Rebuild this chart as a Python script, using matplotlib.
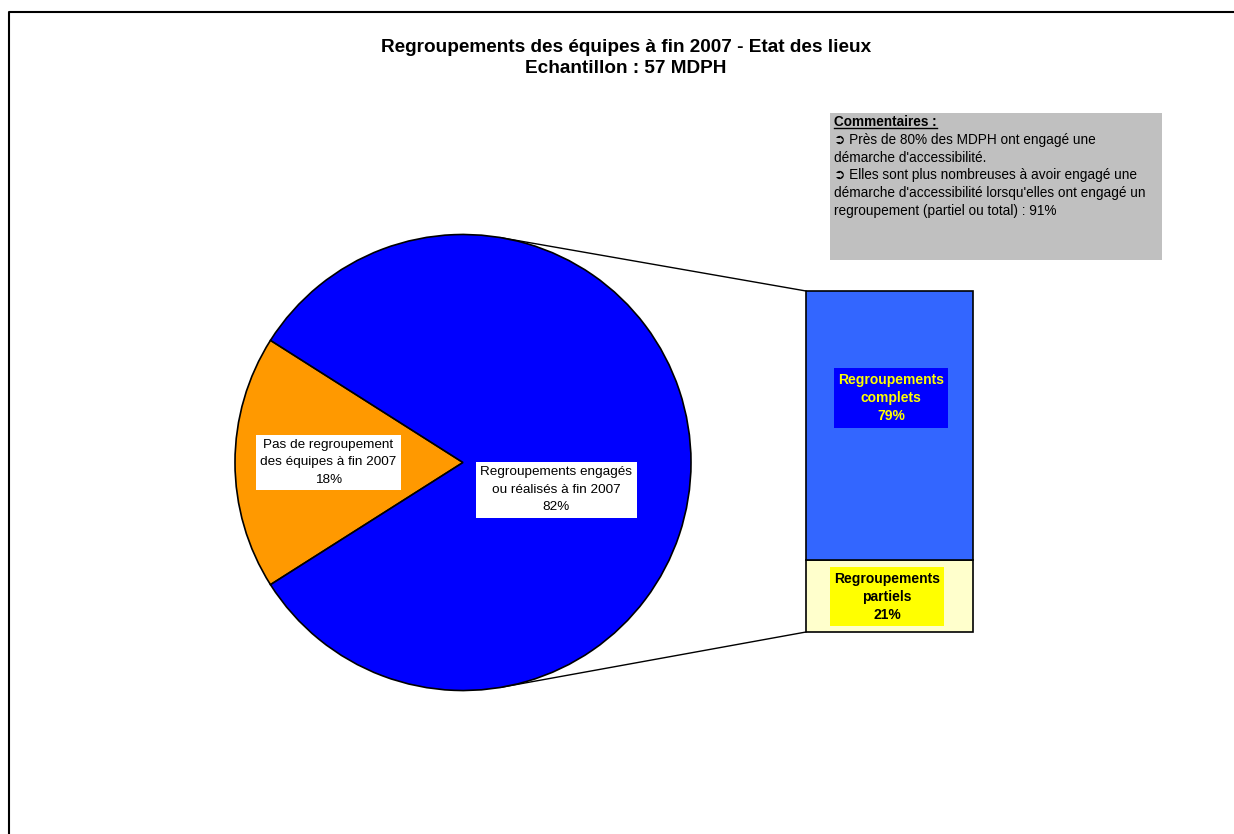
import matplotlib
matplotlib.use('Agg')
import matplotlib.pyplot as plt
import numpy as np

plt.rcParams['font.family'] = ['Liberation Sans', 'DejaVu Sans']

# data
pie_labels = ['Pas de regroupement\ndes équipes à fin 2007', 'Regroupements engagés\nou réalisés à fin 2007']
pie_values = [18, 82]
pie_colors = ['#FF9900', '#0000FF']
bar_labels = ['Regroupements\npartiels', 'Regroupements\ncomplets']
bar_values = [21, 79]
bar_colors = ['#FFFFCC', '#3366FF']

title = 'Regroupements des équipes à fin 2007 - Etat des lieux\nEchantillon : 57 MDPH'
comment_head = 'Commentaires :'
comment_body = ("\u27b2 Près de 80% des MDPH ont engagé une\n"
                "démarche d'accessibilité.\n"
                "\u27b2 Elles sont plus nombreuses à avoir engagé une\n"
                "démarche d'accessibilité lorsqu'elles ont engagé un\n"
                "regroupement (partiel ou total) : 91%")

W, H = 1234, 834
fig = plt.figure(figsize=(W / 100, H / 100), dpi=100)
fig.patch.set_facecolor('white')

# pixel-coordinate canvas (y measured from top)
ax = fig.add_axes([0, 0, 1, 1])
ax.set_xlim(0, W)
ax.set_ylim(H, 0)
ax.axis('off')

# outer frame
ax.plot([9, 9, W + 5], [H + 5, 12, 12], color='black', lw=1.5, solid_capstyle='butt')

# title
ax.text(626, 58, title, ha='center', va='center', fontsize=13.7, fontweight='bold',
        linespacing=1.27)

# pie (own axes, data in natural orientation)
cx, cy, r = 463, 462.5, 228
pax = fig.add_axes([(cx - r) / W, (H - cy - r) / H, 2 * r / W, 2 * r / H])
start = 180 - pie_values[0] / sum(pie_values) * 360 / 2
wedges, _ = pax.pie(pie_values, colors=pie_colors, startangle=start, counterclock=True,
                    wedgeprops=dict(edgecolor='black', linewidth=1.2))
pax.set_xlim(-1, 1)
pax.set_ylim(-1, 1)
pax.set_aspect('auto')
pax.axis('off')

tot = sum(pie_values)
pax.text(-0.59, 0.0, pie_labels[0] + '\n%d%%' % round(pie_values[0] / tot * 100),
         ha='center', va='center', fontsize=9.7, linespacing=1.62,
         bbox=dict(facecolor='white', edgecolor='none', pad=3))
pax.text(0.41, -0.12, pie_labels[1] + '\n%d%%' % round(pie_values[1] / tot * 100),
         ha='center', va='center', fontsize=9.7, linespacing=1.62,
         bbox=dict(facecolor='white', edgecolor='none', pad=3))

# stacked bar
bx0, bx1, by0, by1 = 806, 973, 291, 632
bax = fig.add_axes([bx0 / W, (H - by1) / H, (bx1 - bx0) / W, (by1 - by0) / H])
bax.set_xlim(-0.5, 0.5)
bax.set_ylim(0, sum(bar_values))
bax.axis('off')
bottom = 0
for lab, v, c in zip(bar_labels, bar_values, bar_colors):
    bax.bar(0, v, width=1.0, bottom=bottom, color=c, edgecolor='black', linewidth=1.2,
            clip_on=False)
    bottom += v
bax.text(-0.015, bar_values[0] * 0.49, bar_labels[0] + '\n%d%%' % bar_values[0],
         ha='center', va='center', fontsize=10, fontweight='bold', color='black',
         linespacing=1.4, bbox=dict(facecolor='#FFFF00', edgecolor='none', pad=3))
bax.text(0.009, bar_values[0] + bar_values[1] * 0.603, bar_labels[1] + '\n%d%%' % bar_values[1],
         ha='center', va='center', fontsize=10, fontweight='bold', color='#FFFF00',
         linespacing=1.4, bbox=dict(facecolor='#0000FF', edgecolor='none', pad=3))

# connector lines from pie edge to bar corners
a = np.deg2rad(80)
ax.plot([cx + r * np.cos(a), bx0], [cy - r * np.sin(a), by0], color='black', lw=1)
ax.plot([cx + r * np.cos(a), bx0], [cy + r * np.sin(a), by1], color='black', lw=1)

# comments box
ax.add_patch(plt.Rectangle((830, 113), 332, 147, facecolor='#C0C0C0', edgecolor='none'))
t = ax.text(834, 115, comment_head, ha='left', va='top', fontsize=9.8, fontweight='bold')
ax.text(834, 133, comment_body, ha='left', va='top', fontsize=9.8, linespacing=1.33)
fig.canvas.draw()
bb = t.get_window_extent().transformed(ax.transData.inverted())
ax.plot([bb.x0, bb.x1], [bb.y0 - 1, bb.y0 - 1], color='black', lw=1)

fig.savefig('out.png', dpi=100)
